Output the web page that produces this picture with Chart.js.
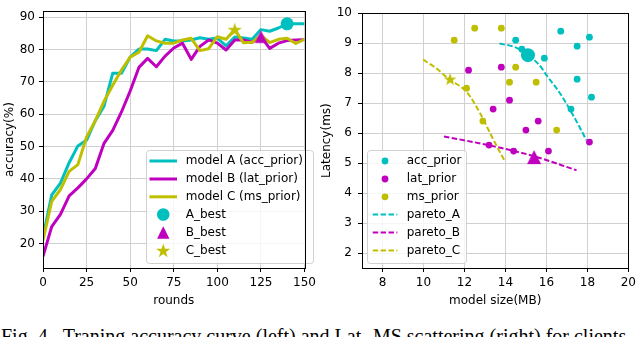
<!DOCTYPE html>
<html><head><meta charset="utf-8">
<script src="https://cdn.jsdelivr.net/npm/chart.js@4.4.1/dist/chart.umd.min.js"></script>
<style>
html,body{margin:0;padding:0;background:#fff;width:640px;height:337px;overflow:hidden;position:relative;}
#c1{position:absolute;left:0;top:0;}
#c2{position:absolute;left:316px;top:0;}
#cap{position:absolute;left:1px;top:326px;font-family:"Liberation Serif","Times New Roman",serif;font-size:20px;line-height:20px;white-space:nowrap;color:#000;}
</style></head><body>
<canvas id="c1" width="320" height="310" style="width:320px;height:310px"></canvas>
<canvas id="c2" width="324" height="310" style="width:324px;height:310px"></canvas>
<div id="cap">Fig. 4.&nbsp;&nbsp;Traning accuracy curve (left) and Lat.-MS scattering (right) for clients</div>
<script>
// ---------- data: left chart ----------
const rounds = [0,5,10,15,20,25,30,35,40,45,50,55,60,65,70,75,80,85,90,95,100,105,110,115,120,125,130,135,140,145,150];
const accA = [22,35,38.7,45,50.2,52,58,62.5,72.7,72.7,77.7,80.2,80.2,79.7,83.2,82.7,82.7,83,83.7,83.2,83.6,81.2,83.9,83.6,83.2,86.2,85.7,86.7,88,88,88];
const accB = [16,25.2,29,34.7,37.2,40,43.2,51,55,60.7,67.2,74.5,77.3,74.7,78,80.5,82,77,81,83,82,79.9,83,83,82.3,84,80.4,82,82.8,83,83.1];
const accC = [21,33,36.7,42.3,44.4,53,58,64,69,73.7,77.7,79.2,84.3,82.7,82,82,83,83.5,79.7,80.3,84,83.2,86.2,82.1,82.3,84.4,82.2,83.2,83.5,81.9,83.2];
const bestRounds = [140,125,110];
const bestAcc = [88,84,86.2];
const roundTicks = [0,25,50,75,100,125,150];
const accTicks = [20,30,40,50,60,70,80,90];
const leftNames = ['model A (acc_prior)','model B (lat_prior)','model C (ms_prior)','A_best','B_best','C_best'];

// ---------- data: right chart ----------
const accPriorMS  = [14.5,14.8,15.1,15.9,16.7,18.1,17.5,17.5,18.2,17.2];
const accPriorLat = [9.1,8.8,8.6,8.5,9.4,9.2,8.9,7.8,7.2,6.8];
const latPriorMS  = [12.2,13.8,13.4,14.2,15.6,15.0,18.1,13.2,14.4,16.1];
const latPriorLat = [8.1,8.2,6.8,7.1,6.4,6.1,5.7,5.6,5.4,5.4];
const msPriorMS   = [11.5,12.5,13.8,14.5,14.2,15.5,12.1,12.9,16.5];
const msPriorLat  = [9.1,9.5,9.5,8.2,7.7,7.7,7.5,6.4,6.1];
const paretoA_MS  = [13.71,14.59,15.63,16.03,16.67,17.15,17.63,17.95];
const paretoA_Lat = [8.99,8.83,8.29,7.91,7.32,6.78,6.19,5.76];
const paretoB_MS  = [11.0,13.15,15.39,17.47];
const paretoB_Lat = [5.89,5.6,5.23,4.76];
const paretoC_MS  = [9.98,10.59,11.23,12.11,12.75,13.31,13.71,13.98];
const paretoC_Lat = [8.45,8.18,7.81,7.37,6.68,5.92,5.39,5.06];
const bestMS  = [15.1,15.4,11.3];
const bestLat = [8.6,5.2,7.8];
const msTicks  = [8,10,12,14,16,18,20];
const latTicks = [2,3,4,5,6,7,8,9,10];
const rightNames = ['acc_prior','lat_prior','ms_prior','pareto_A','pareto_B','pareto_C'];

// ---------- styling ----------
const CY = '#00bfbf', MG = '#bf00bf', YL = '#bfbf00';
const FONT = '"DejaVu Sans", sans-serif';
const pts = (xs, ys) => xs.map((x, i) => ({x: x, y: ys[i]}));

function starPath(ctx, cx, cy, R) {
  const r = R * 0.381966;
  ctx.beginPath();
  for (let i = 0; i < 10; i++) {
    const a = -Math.PI / 2 + i * Math.PI / 5;
    const rr = (i % 2) ? r : R;
    ctx.lineTo(cx + rr * Math.cos(a), cy + rr * Math.sin(a));
  }
  ctx.closePath();
}
function triPath(ctx, cx, cy, s) {
  ctx.beginPath();
  ctx.moveTo(cx, cy - s);
  ctx.lineTo(cx - s, cy + s);
  ctx.lineTo(cx + s, cy + s);
  ctx.closePath();
}
function markerImg(shape, color, s) {
  const c = document.createElement('canvas');
  const n = Math.ceil(2 * s + 2);
  c.width = n; c.height = n;
  const g = c.getContext('2d');
  g.fillStyle = color;
  if (shape === 'star') starPath(g, n / 2, n / 2 + s * 0.08, s);
  else triPath(g, n / 2, n / 2, s);
  g.fill();
  return c;
}

function framePlugin() {
  return {
    id: 'frame',
    afterDraw(chart) {
      const {ctx, chartArea: a} = chart;
      ctx.save();
      ctx.strokeStyle = '#000';
      ctx.lineWidth = 1;
      ctx.strokeRect(Math.round(a.left) + 0.5, Math.round(a.top) + 0.5,
                     Math.round(a.right) - Math.round(a.left), Math.round(a.bottom) - Math.round(a.top));
      ctx.restore();
    }
  };
}

function legendPlugin(cfg) {
  return {
    id: 'boxLegend',
    afterDatasetsDraw(chart) {
      const ctx = chart.ctx;
      ctx.save();
      const {x, y, w, h} = cfg.box;
      const r = 3;
      ctx.beginPath();
      ctx.moveTo(x + r, y);
      ctx.arcTo(x + w, y, x + w, y + h, r);
      ctx.arcTo(x + w, y + h, x, y + h, r);
      ctx.arcTo(x, y + h, x, y, r);
      ctx.arcTo(x, y, x + w, y, r);
      ctx.closePath();
      ctx.fillStyle = 'rgba(255,255,255,0.8)';
      ctx.fill();
      ctx.strokeStyle = 'rgba(204,204,204,0.9)';
      ctx.lineWidth = 1;
      ctx.stroke();
      cfg.items.forEach((it, i) => {
        const yy = cfg.rowY[i];
        const mx = (cfg.h0 + cfg.h1) / 2;
        ctx.fillStyle = it.color;
        ctx.strokeStyle = it.color;
        if (it.kind === 'line') {
          ctx.lineWidth = 3; ctx.setLineDash([]);
          ctx.beginPath(); ctx.moveTo(cfg.h0, yy); ctx.lineTo(cfg.h1, yy); ctx.stroke();
        } else if (it.kind === 'dash') {
          ctx.lineWidth = 2; ctx.setLineDash([5.5, 2.4]);
          ctx.beginPath(); ctx.moveTo(cfg.h0, yy); ctx.lineTo(cfg.h1, yy); ctx.stroke();
          ctx.setLineDash([]);
        } else if (it.kind === 'circle') {
          ctx.beginPath(); ctx.arc(mx, yy, it.size, 0, Math.PI * 2); ctx.fill();
        } else if (it.kind === 'tri') {
          triPath(ctx, mx, yy, it.size); ctx.fill();
        } else if (it.kind === 'star') {
          starPath(ctx, mx, yy + it.size * 0.08, it.size); ctx.fill();
        }
        ctx.fillStyle = '#000';
        ctx.font = '12px ' + FONT;
        ctx.textBaseline = 'middle';
        ctx.textAlign = 'left';
        ctx.fillText(it.text, cfg.tx, yy);
      });
      ctx.restore();
    }
  };
}

function axisCommon(ticksArr, min, max, title, titlePad, fitSize, horizontal, tickPad) {
  return {
    type: 'linear', min: min, max: max,
    afterBuildTicks: s => { s.ticks = ticksArr.map(v => ({value: v})); },
    afterFit: s => { if (horizontal) s.height = fitSize; else s.width = fitSize; },
    grid: { color: '#d0d0d0', lineWidth: 1, tickColor: '#000', tickLength: 4, drawTicks: true },
    border: { display: true, color: '#000', width: 1 },
    ticks: { color: '#000', font: { family: FONT, size: 12 }, padding: tickPad, maxRotation: 0, autoSkip: false },
    title: { display: true, text: title, color: '#000', font: { family: FONT, size: 12 }, padding: titlePad }
  };
}

Chart.defaults.animation = false;

// ---------- left chart ----------
new Chart(document.getElementById('c1'), {
  type: 'line',
  data: {
    datasets: [
      { label: leftNames[0], data: pts(rounds, accA), borderColor: CY, borderWidth: 3, pointRadius: 0, borderJoinStyle: 'round', order: 6 },
      { label: leftNames[1], data: pts(rounds, accB), borderColor: MG, borderWidth: 3, pointRadius: 0, borderJoinStyle: 'round', order: 5 },
      { label: leftNames[2], data: pts(rounds, accC), borderColor: YL, borderWidth: 3, pointRadius: 0, borderJoinStyle: 'round', order: 4 },
      { label: leftNames[3], data: [{x: bestRounds[0], y: bestAcc[0]}], showLine: false, pointStyle: 'circle', pointRadius: 6.5, backgroundColor: CY, borderColor: CY, pointBorderWidth: 0, order: 3 },
      { label: leftNames[4], data: [{x: bestRounds[1], y: bestAcc[1]}], showLine: false, pointStyle: markerImg('tri', MG, 6.2), pointRadius: 6, order: 2 },
      { label: leftNames[5], data: [{x: bestRounds[2], y: bestAcc[2]}], showLine: false, pointStyle: markerImg('star', YL, 7.5), pointRadius: 6, order: 1 }
    ]
  },
  options: {
    responsive: false, devicePixelRatio: 1, events: [],
    layout: { autoPadding: false, padding: { left: 0, top: 5, right: 6, bottom: 0 } },
    plugins: { legend: { display: false }, tooltip: { enabled: false } },
    scales: {
      x: axisCommon(roundTicks, 0, 150, 'rounds', { top: 0, bottom: 2.4 }, 42, true, 4),
      y: axisCommon(accTicks, 12.4, 91.9, 'accuracy(%)', { top: 2.2, bottom: 0 }, 43, false, 4)
    }
  },
  plugins: [framePlugin(), legendPlugin({
    box: { x: 146.5, y: 150.5, w: 167, h: 113 },
    h0: 149.5, h1: 177, tx: 185.7,
    rowY: [161, 179, 196.8, 214.5, 232.5, 250.5],
    items: [
      { kind: 'line', color: CY, text: leftNames[0] },
      { kind: 'line', color: MG, text: leftNames[1] },
      { kind: 'line', color: YL, text: leftNames[2] },
      { kind: 'circle', color: CY, size: 6.3, text: leftNames[3] },
      { kind: 'tri', color: MG, size: 6.2, text: leftNames[4] },
      { kind: 'star', color: YL, size: 7.5, text: leftNames[5] }
    ]
  })]
});

// ---------- right chart ----------
new Chart(document.getElementById('c2'), {
  type: 'scatter',
  data: {
    datasets: [
      { label: rightNames[0], data: pts(accPriorMS, accPriorLat), backgroundColor: CY, borderColor: CY, pointRadius: 3.4, pointBorderWidth: 0, order: 9 },
      { label: rightNames[1], data: pts(latPriorMS, latPriorLat), backgroundColor: MG, borderColor: MG, pointRadius: 3.4, pointBorderWidth: 0, order: 8 },
      { label: rightNames[2], data: pts(msPriorMS, msPriorLat), backgroundColor: YL, borderColor: YL, pointRadius: 3.4, pointBorderWidth: 0, order: 7 },
      { label: rightNames[3], data: pts(paretoA_MS, paretoA_Lat), showLine: true, borderColor: CY, borderWidth: 2, borderDash: [5.5, 2.4], pointRadius: 0, cubicInterpolationMode: 'monotone', order: 6 },
      { label: rightNames[4], data: pts(paretoB_MS, paretoB_Lat), showLine: true, borderColor: MG, borderWidth: 2, borderDash: [5.5, 2.4], pointRadius: 0, cubicInterpolationMode: 'monotone', order: 5 },
      { label: rightNames[5], data: pts(paretoC_MS, paretoC_Lat), showLine: true, borderColor: YL, borderWidth: 2, borderDash: [5.5, 2.4], pointRadius: 0, cubicInterpolationMode: 'monotone', order: 4 },
      { label: 'A_best', data: [{x: bestMS[0], y: bestLat[0]}], backgroundColor: CY, borderColor: CY, pointStyle: 'circle', pointRadius: 7, pointBorderWidth: 0, order: 3 },
      { label: 'B_best', data: [{x: bestMS[1], y: bestLat[1]}], pointStyle: markerImg('tri', MG, 7), pointRadius: 6, order: 2 },
      { label: 'C_best', data: [{x: bestMS[2], y: bestLat[2]}], pointStyle: markerImg('star', YL, 6.8), pointRadius: 6, order: 1 }
    ]
  },
  options: {
    responsive: false, devicePixelRatio: 1, events: [],
    layout: { autoPadding: false, padding: { left: 0, top: 5, right: 7, bottom: 0 } },
    plugins: { legend: { display: false }, tooltip: { enabled: false } },
    scales: {
      x: axisCommon(msTicks, 7, 20, 'model size(MB)', { top: 0, bottom: 2.4 }, 42, true, 4),
      y: axisCommon(latTicks, 1.5, 10, 'Latency(ms)', { top: 4, bottom: 0 }, 46, false, 6)
    }
  },
  plugins: [framePlugin(), legendPlugin({
    box: { x: 51.5, y: 150.5, w: 99, h: 113 },
    h0: 56.7, h1: 81.3, tx: 90.7,
    rowY: [161, 179, 196.8, 214.5, 232.5, 250.5],
    items: [
      { kind: 'circle', color: CY, size: 3.4, text: rightNames[0] },
      { kind: 'circle', color: MG, size: 3.4, text: rightNames[1] },
      { kind: 'circle', color: YL, size: 3.4, text: rightNames[2] },
      { kind: 'dash', color: CY, text: rightNames[3] },
      { kind: 'dash', color: MG, text: rightNames[4] },
      { kind: 'dash', color: YL, text: rightNames[5] }
    ]
  })]
});
</script>
</body></html>
